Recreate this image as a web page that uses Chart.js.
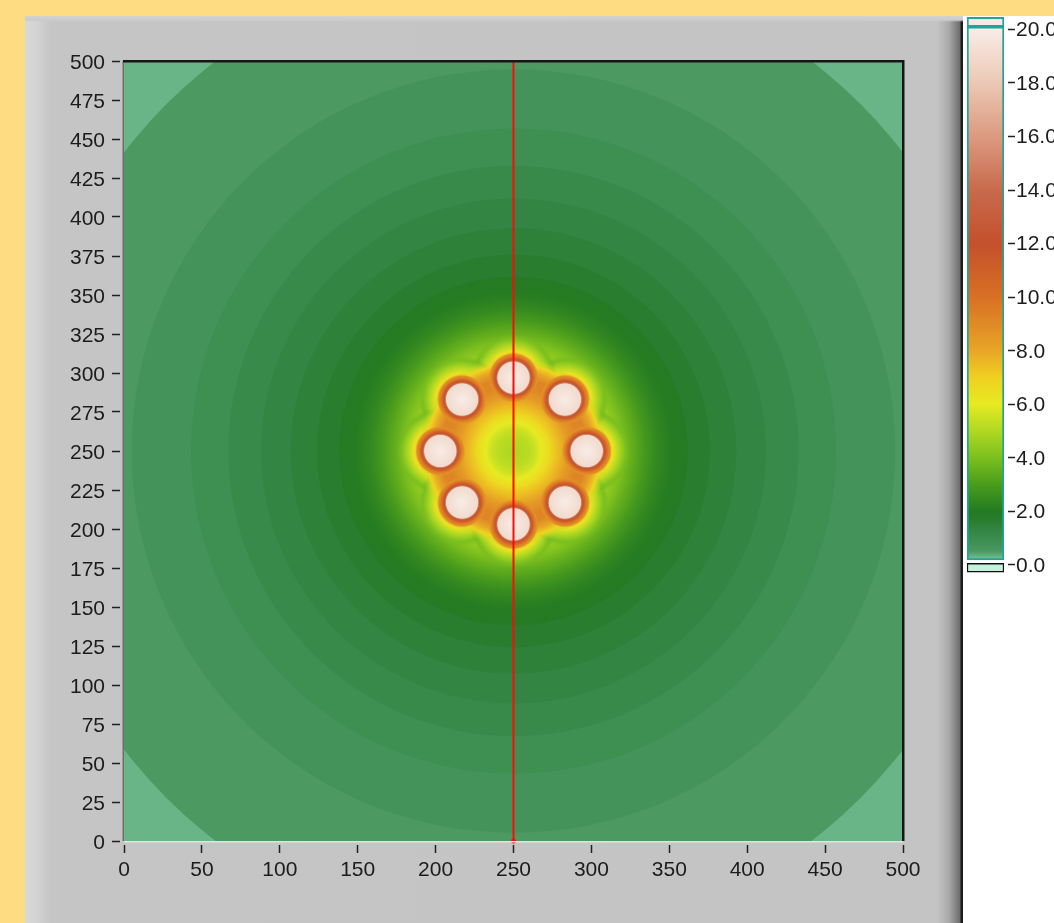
<!doctype html>
<html lang="en">
<head>
<meta charset="utf-8">
<style>
    html, body { margin: 0; padding: 0; width: 1054px; height: 923px; overflow: hidden; background: #fedd82; }
    #panel {
        position: absolute; left: 25px; top: 16px; width: 938px; height: 907px;
        background:
            linear-gradient(to bottom, #d3d3d3 0px, #cbcbcb 4px, rgba(196,196,196,0) 6px),
            linear-gradient(to right, #d9d9d9 0px, #d3d3d3 12px, #c5c5c5 26px, #c4c4c4 912px, #a9a9a9 924px, #6c6c6c 935px, #1c1c1c 936px, #1c1c1c 938px);
    }
    #side { position: absolute; left: 963px; top: 16px; width: 91px; height: 907px; background: #ffffff; }
    #plot { position: absolute; left: 0; top: 0; width: 960px; height: 923px; }
    #ramp { position: absolute; left: 962px; top: 0; width: 130px; height: 600px; }
</style>
</head>
<body>
<div id="panel"></div>
<div id="side"></div>
<canvas id="plot" width="960" height="923"></canvas>
<canvas id="ramp" width="130" height="600"></canvas>

<script src="https://cdn.jsdelivr.net/npm/chart.js"></script>
<script>
    // colour ramp: level -> colour
    const rampLevels = [0, 0.3, 0.5, 0.7, 0.9, 1.1, 1.3, 1.5, 1.7, 2, 3, 4, 5, 6, 7, 8, 9, 10, 12, 14, 16, 18, 20];
    const rampColors = ['#c4f2dc', '#6ab587', '#4c9a62', '#43935a', '#3e8f52', '#388a4a', '#338544', '#2d8138', '#287d2e',
                        '#237a22', '#4a9c1c', '#7cc01e', '#b0d822', '#e6ea22', '#f0d020', '#e8a626', '#e08a26', '#d87024',
                        '#c4502c', '#c86a4c', '#dc9a80', '#ecc8b4', '#f8ece6'];
    const rampTicks = [0, 2, 4, 6, 8, 10, 12, 14, 16, 18, 20];

    // centre of the pattern
    const centerX = 250;
    const centerY = 250;

    // stepped bands around the centre (outer radius, level)
    const bandRadius = [360, 315, 245, 207, 183, 162, 143, 126];
    const bandLevel  = [0.3, 0.5, 0.7, 0.9, 1.1, 1.3, 1.5, 1.7];

    // broad glow towards the middle
    const glowRadius = [112, 102, 92, 84, 76, 69, 64];
    const glowLevel  = [1.95, 2.05, 2.4, 2.9, 3.5, 4.1, 4.5];

    // ring joining the hot spots, with its dip in the middle
    const ringRadius = [61, 56, 52, 47, 42, 35, 28, 23, 18, 14, 10, 0];
    const ringLevel  = [5.2, 6.8, 8.0, 9.2, 9.2, 8.4, 7.4, 6.6, 6.0, 5.5, 5.2, 4.9];

    // the eight hot spots
    const spotX = [297, 283, 250, 217, 203, 217, 250, 283];
    const spotY = [250, 283, 297, 283, 250, 217, 203, 217];

    // outer halo of each spot
    const haloRadius = [28, 25, 21, 17, 15, 0];
    const haloLevel  = [3.8, 4.0, 4.9, 6.3, 7.2, 7.2];

    // bright core and rim of each spot
    const coreRadius = [16, 15, 14, 13, 12, 11.2, 10.6, 10.1, 0];
    const coreLevel  = [8.6, 8.8, 9.3, 10.2, 11.5, 12.5, 15, 19, 20];

    // vertical cursor
    const cursorX = 250;

    const tickFont = { family: 'Liberation Sans', size: 21 };
    const tickColor = '#1c1c1c';
    const clear = 'rgba(0,0,0,0)';

    function hexRgb(h) {
        const n = parseInt(h.slice(1), 16);
        return [(n >> 16) & 255, (n >> 8) & 255, n & 255];
    }

    function levelColor(v, a = 1) {
        let i = 1;
        while (i < rampLevels.length - 1 && v > rampLevels[i]) i++;
        const t = Math.min(1, Math.max(0, (v - rampLevels[i - 1]) / (rampLevels[i] - rampLevels[i - 1])));
        const c0 = hexRgb(rampColors[i - 1]);
        const c1 = hexRgb(rampColors[i]);
        const c = c0.map((x, k) => Math.round(x + (c1[k] - x) * t));
        return `rgba(${c[0]},${c[1]},${c[2]},${a})`;
    }

    // radius in axis units -> pixels (0 until the scales are laid out)
    function pxLen(chart, r) {
        const xs = chart.scales.x;
        if (!xs) return 0;
        const d = xs.getPixelForValue(r) - xs.getPixelForValue(0);
        return isFinite(d) ? d : 0;
    }

    // radial fill from a profile; the outermost stop fades out when asked
    function radialFill(c, radii, levels, fade) {
        if (!c.raw) return clear;
        const chart = c.chart;
        const px = chart.scales.x.getPixelForValue(c.raw.x);
        const py = chart.scales.y.getPixelForValue(c.raw.y);
        const R = pxLen(chart, radii[0]);
        if (!isFinite(px) || !isFinite(py) || R <= 0) return clear;
        const g = chart.ctx.createRadialGradient(px, py, 0, px, py, R);
        radii.forEach((r, i) => g.addColorStop(r / radii[0], levelColor(levels[i], fade && i === 0 ? 0 : 1)));
        return g;
    }

    const bandPoints = bandRadius.map((r, i) => ({ x: centerX, y: centerY, r: r, v: bandLevel[i] }));
    const spotPoints = spotX.map((x, i) => ({ x: x, y: spotY[i] }));

    function profileSet(label, data, radii, levels, fade, order) {
        return {
            label: label,
            data: data,
            order: order,
            clip: 0,
            pointStyle: 'circle',
            pointBorderWidth: 0,
            pointRadius: c => c.raw ? pxLen(c.chart, radii[0]) : 0,
            pointBackgroundColor: c => radialFill(c, radii, levels, fade)
        };
    }

    // plot frame: dark top/right, grey left, light bottom
    const framePlugin = {
        id: 'frame',
        afterDatasetsDraw(chart) {
            const { ctx, chartArea: a } = chart;
            ctx.save();
            ctx.fillStyle = '#6e6e6e';
            ctx.fillRect(a.left - 1.5, a.top, 1.5, a.bottom - a.top);
            ctx.fillStyle = '#dde6dd';
            ctx.fillRect(a.left, a.bottom, a.right - a.left, 1.5);
            ctx.fillStyle = '#161616';
            ctx.fillRect(a.left - 1, a.top - 1, a.right - a.left + 2, 2.5);
            ctx.fillRect(a.right - 1, a.top - 1, 2.5, a.bottom - a.top + 1);
            ctx.restore();
        }
    };

    const plot = new Chart(document.getElementById('plot'), {
        type: 'scatter',
        data: {
            datasets: [
                {
                    label: 'cursor',
                    data: [{ x: cursorX, y: 0 }, { x: cursorX, y: 500 }],
                    order: 0,
                    clip: false,
                    showLine: true,
                    borderColor: '#ff0a0a',
                    borderWidth: 2,
                    pointRadius: c => c.dataIndex === 0 ? 2.5 : 0,
                    pointBackgroundColor: '#ff0a0a',
                    pointBorderWidth: 0
                },
                profileSet('core', spotPoints, coreRadius, coreLevel, true, 1),
                profileSet('ring', [{ x: centerX, y: centerY }], ringRadius, ringLevel, true, 2),
                profileSet('halo', spotPoints, haloRadius, haloLevel, true, 3),
                profileSet('glow', [{ x: centerX, y: centerY }], glowRadius, glowLevel, false, 4),
                {
                    label: 'bands',
                    data: bandPoints,
                    order: 5,
                    clip: 0,
                    pointStyle: 'circle',
                    pointBorderWidth: 0,
                    pointRadius: c => c.raw ? pxLen(c.chart, c.raw.r) : 0,
                    pointBackgroundColor: c => c.raw ? levelColor(c.raw.v) : clear
                }
            ]
        },
        options: {
            responsive: false,
            animation: false,
            events: [],
            layout: { autoPadding: false, padding: { top: 61, right: 57, bottom: 32, left: 0 } },
            plugins: { legend: { display: false }, tooltip: { enabled: false } },
            scales: {
                x: {
                    type: 'linear',
                    min: 0,
                    max: 500,
                    afterFit: s => { s.height = 50; },
                    border: { display: false },
                    grid: { drawOnChartArea: false, tickLength: 12, tickWidth: 1.5, tickColor: '#202020', tickBorderDash: [0, 4, 8, 20] },
                    ticks: { stepSize: 50, padding: 5, font: tickFont, color: tickColor, maxRotation: 0 }
                },
                y: {
                    type: 'linear',
                    min: 0,
                    max: 500,
                    afterFit: s => { s.width = 124; },
                    border: { display: false },
                    grid: { drawOnChartArea: false, tickLength: 12, tickWidth: 1.5, tickColor: '#202020', tickBorderDash: [8, 20] },
                    ticks: { stepSize: 25, autoSkip: false, padding: 7, labelOffset: 2, font: tickFont, color: tickColor }
                }
            }
        },
        plugins: [framePlugin]
    });
    plot.update();

    // colour ramp beside the plot
    function rampGradient(c) {
        const ys = c.chart.scales.y;
        const y0 = ys ? ys.getPixelForValue(0) : NaN;
        const y1 = ys ? ys.getPixelForValue(20) : NaN;
        if (!isFinite(y0) || !isFinite(y1)) return rampColors[0];
        const g = c.chart.ctx.createLinearGradient(0, y0, 0, y1);
        rampLevels.forEach((v, i) => g.addColorStop(v / 20, rampColors[i]));
        return g;
    }

    const barBase = { barPercentage: 1, categoryPercentage: 1, grouped: false, borderSkipped: false };

    const ramp = new Chart(document.getElementById('ramp'), {
        type: 'bar',
        data: {
            labels: [''],
            datasets: [
                Object.assign({ data: [[20.1, 20.45]], backgroundColor: '#f6e9e2', borderColor: '#1fa596', borderWidth: 2 }, barBase),
                Object.assign({ data: [[0.19, 20.1]], backgroundColor: rampGradient, borderColor: '#1fa596', borderWidth: 2 }, barBase),
                Object.assign({ data: [[-0.27, 0.06]], backgroundColor: '#c2f2dc', borderColor: '#111111', borderWidth: 1.5 }, barBase)
            ]
        },
        options: {
            responsive: false,
            animation: false,
            events: [],
            layout: { autoPadding: false, padding: { top: 16, right: 0, bottom: 27, left: 5 } },
            plugins: { legend: { display: false }, tooltip: { enabled: false } },
            scales: {
                x: { display: false },
                y: {
                    position: 'right',
                    min: -0.3,
                    max: 20.5,
                    afterBuildTicks: s => { s.ticks = rampTicks.map(v => ({ value: v })); },
                    afterFit: s => { s.width = 88; },
                    border: { display: false },
                    grid: { drawOnChartArea: false, tickLength: 11, tickWidth: 1.5, tickColor: '#202020', tickBorderDash: [0, 4, 7, 20] },
                    ticks: { padding: 1, labelOffset: 1, font: tickFont, color: tickColor, callback: v => Number(v).toFixed(1) }
                }
            }
        }
    });
    ramp.update();
</script>
</body>
</html>
